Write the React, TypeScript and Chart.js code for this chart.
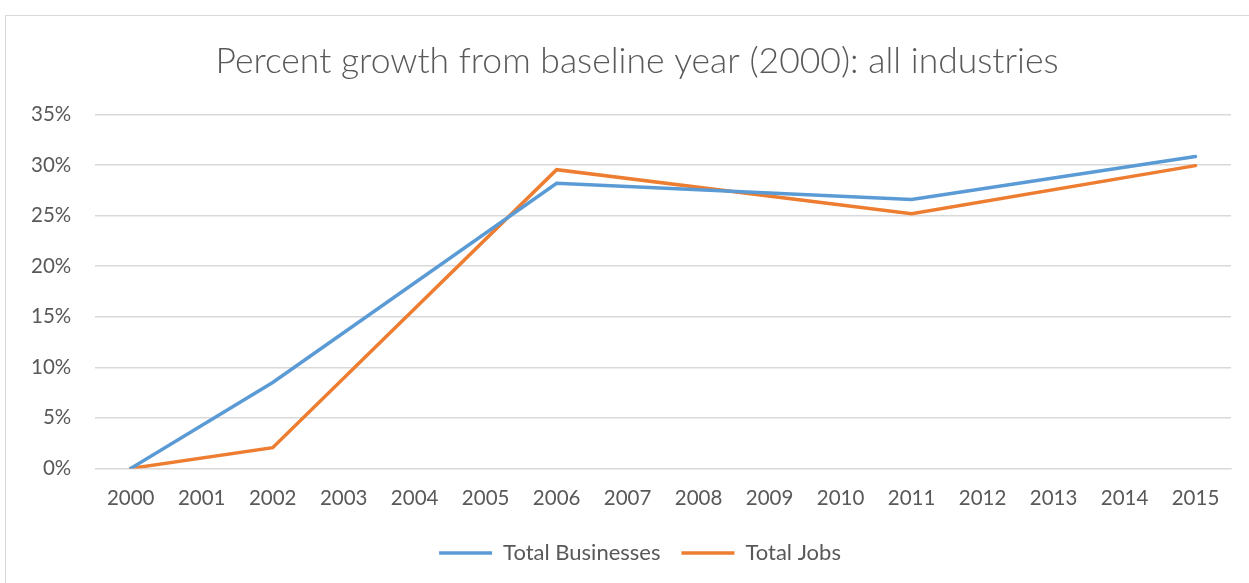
import React, { useEffect, useRef } from "react";
import { Chart, registerables } from "chart.js";

Chart.register(...registerables);

const years = ["2000","2001","2002","2003","2004","2005","2006","2007","2008","2009","2010","2011","2012","2013","2014","2015"];
const totalBusinesses = [0, null, 8.5, null, null, null, 28.2, null, null, null, null, 26.6, null, null, null, 30.85];
const totalJobs = [0, null, 2.05, null, null, null, 29.55, null, null, null, null, 25.2, null, null, null, 29.95];
const yTicks = [0, 5, 10, 15, 20, 25, 30, 35];

const FONT = "Lato";
const TEXT = "#595959";

const boxShift = {
  id: "boxShift",
  afterLayout(chart: any) {
    const t = chart.titleBlock;
    if (t) {
      t.left += 18;
      t.right += 18;
    }
    const lg = chart.legend;
    if (lg) {
      lg.left += 21;
      lg.right += 21;
    }
  },
};

export default function App() {
  const ref = useRef<HTMLCanvasElement>(null);
  useEffect(() => {
    if (!ref.current) return;
    const chart = new Chart(ref.current, {
      type: "line",
      data: {
        labels: years,
        datasets: [
          { label: "Total Businesses", data: totalBusinesses, borderColor: "#5B9BD5", backgroundColor: "#5B9BD5", borderWidth: 3.5, pointRadius: 0, tension: 0, spanGaps: true, borderCapStyle: "round" },
          { label: "Total Jobs", data: totalJobs, borderColor: "#ED7D31", backgroundColor: "#ED7D31", borderWidth: 3.5, pointRadius: 0, tension: 0, spanGaps: true, borderCapStyle: "round" },
        ],
      },
      options: {
        animation: false,
        responsive: false,
        events: [],
        layout: { padding: { left: 1, right: 34, top: 0, bottom: 9 } },
        plugins: {
          title: {
            display: true,
            text: "Percent growth from baseline year (2000): all industries",
            color: TEXT,
            font: { family: FONT, size: 35.5, weight: 300 },
            padding: { top: 24, bottom: 32 },
          },
          legend: {
            position: "bottom",
            labels: {
              usePointStyle: true,
              pointStyle: "line",
              pointStyleWidth: 53,
              color: TEXT,
              font: { family: FONT, size: 22 },
              padding: 21,
            },
          },
          tooltip: { enabled: false },
        },
        scales: {
          x: {
            offset: true,
            grid: { display: false },
            border: { display: true, color: "#d9d9d9", width: 1 },
            ticks: { color: TEXT, font: { family: FONT, size: 20.5 }, padding: 10, maxRotation: 0 },
          },
          y: {
            min: 0,
            max: 35,
            afterBuildTicks: (axis: any) => { axis.ticks = yTicks.map((v) => ({ value: v })); },
            grid: { color: "#d9d9d9", lineWidth: 1.5, drawTicks: false },
            border: { display: false },
            ticks: { color: TEXT, font: { family: FONT, size: 20.5 }, padding: 24, callback: (v: any) => v + "%" },
          },
        },
      },
      plugins: [boxShift],
    });
    return () => chart.destroy();
  }, []);
  return (
    <div style={{ position: "absolute", left: 5, top: 15, width: 1262, height: 570, border: "1.5px solid #d9d9d9", boxSizing: "border-box", background: "#fff" }}>
      <canvas ref={ref} width={1259} height={567} style={{ display: "block" }} />
    </div>
  );
}
